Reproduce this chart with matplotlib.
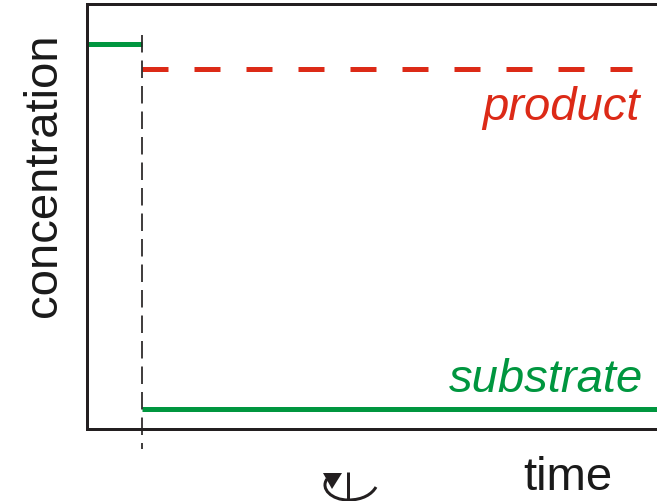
import matplotlib
matplotlib.use("Agg")
import matplotlib.pyplot as plt
from matplotlib.path import Path
from matplotlib.patches import PathPatch, Polygon

plt.rcParams['font.family'] = ['Liberation Sans', 'DejaVu Sans']

# Values (arbitrary units)
addition_time = 55
time_end = 570
substrate_time = [0, addition_time, addition_time, time_end]
substrate_before = 385
substrate_after = 20
product_level = 360
product_time = [addition_time, 545]
x_label = "time"
y_label = "concentration"
product_label = "product"
substrate_label = "substrate"

GREEN = "#00963f"
RED = "#dc2a17"
DARK = "#231f20"
PX = 0.72  # points per pixel at 100 dpi

fig = plt.figure(figsize=(6.57, 5.01), dpi=100)
ax = fig.add_axes([87 / 657, (501 - 429) / 501, 570 / 657, 425 / 501])
ax.set_xlim(0, time_end)
ax.set_ylim(0, 425)
ax.set_xticks([])
ax.set_yticks([])
ax.spines['right'].set_visible(False)
for s in ('left', 'top', 'bottom'):
    ax.spines[s].set_linewidth(3 * PX)
    ax.spines[s].set_color(DARK)

# substrate, before and after enzyme addition
ax.plot(substrate_time[:2], [substrate_before] * 2, color=GREEN, lw=5 * PX, solid_capstyle='butt')
ax.plot(substrate_time[2:], [substrate_after] * 2, color=GREEN, lw=5 * PX, solid_capstyle='butt')
# product
ax.plot(product_time, [product_level] * 2, color=RED, lw=5 * PX,
        dash_capstyle='butt', linestyle=(0, (26 / 5, 26 / 5)))
# enzyme addition marker
ax.plot([addition_time, addition_time], [394, -20], color=DARK, lw=1.7 * PX, clip_on=False,
        dash_capstyle='butt', linestyle=(0, (17.5 / 1.7, 8 / 1.7)), zorder=5)

ax.text(553, 309, product_label, color=RED, style='italic', fontsize=34, ha='right', va='baseline')
ax.text(556, 37, substrate_label, color=GREEN, style='italic', fontsize=34, ha='right', va='baseline')
ax.text(481, -61, x_label, color='#1a1a1a', fontsize=34, ha='center', va='baseline', clip_on=False)
ax.text(-43, 254, y_label, color='#1a1a1a', fontsize=34, rotation=90, ha='center', va='center', clip_on=False)

# rotation (stirring) symbol below the axis
ax.plot([261, 261], [-43, -71], color=DARK, lw=3 * PX, clip_on=False, solid_capstyle='butt')
arc = Path([(240, -50), (233, -60), (245, -71), (261, -71), (276, -71), (285, -65), (289, -58)],
           [Path.MOVETO, Path.CURVE4, Path.CURVE4, Path.CURVE4, Path.CURVE4, Path.CURVE4, Path.CURVE4])
ax.add_patch(PathPatch(arc, fill=False, edgecolor=DARK, lw=3 * PX, clip_on=False))
ax.add_patch(Polygon([(236, -44), (255, -44), (245, -60)], closed=True, facecolor=DARK,
                     edgecolor='none', clip_on=False))

fig.savefig("out.png", dpi=100)
